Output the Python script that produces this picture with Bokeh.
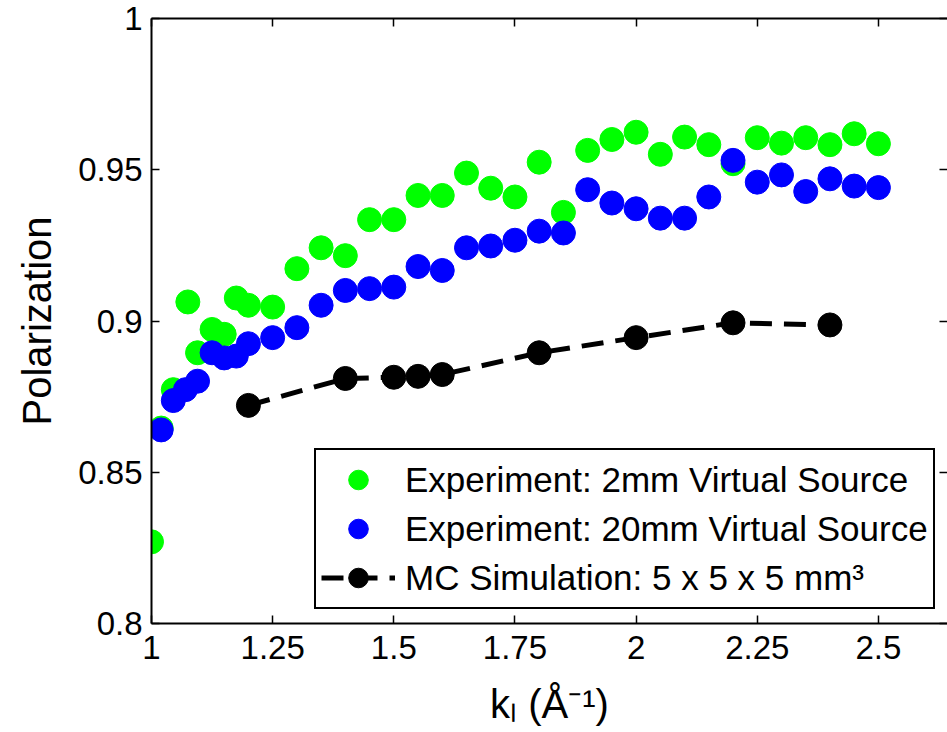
from bokeh.plotting import figure
from bokeh.models import (Range1d, LinearAxis, FixedTicker, Legend, LegendItem)
from bokeh.embed import file_html
from bokeh.resources import INLINE

# ---------------- data ----------------
k_2mm = [1.0, 1.02, 1.045, 1.075, 1.095, 1.125, 1.15, 1.175, 1.2,
         1.25, 1.3, 1.35, 1.4, 1.45, 1.5, 1.55, 1.6, 1.65, 1.7, 1.75, 1.8, 1.85,
         1.9, 1.95, 2.0, 2.05, 2.1, 2.15, 2.2, 2.25, 2.3, 2.35, 2.4, 2.45, 2.5]
p_2mm = [0.827, 0.8646, 0.8773, 0.9063, 0.8895, 0.8972, 0.8956, 0.9076, 0.9052,
         0.9046, 0.9173, 0.9242, 0.9216, 0.9335, 0.9335, 0.9415, 0.9415, 0.9489,
         0.9439, 0.941, 0.9525, 0.9359, 0.9564, 0.960, 0.9624, 0.9551, 0.9608,
         0.9583, 0.952, 0.9606, 0.9588, 0.9606, 0.9583, 0.9619, 0.9586]

k_20mm = [1.02, 1.045, 1.07, 1.095, 1.125, 1.15, 1.175, 1.2,
          1.25, 1.3, 1.35, 1.4, 1.45, 1.5, 1.55, 1.6, 1.65, 1.7, 1.75, 1.8, 1.85,
          1.9, 1.95, 2.0, 2.05, 2.1, 2.15, 2.2, 2.25, 2.3, 2.35, 2.4, 2.45, 2.5]
p_20mm = [0.864, 0.8737, 0.8773, 0.8801, 0.8895, 0.8878, 0.8884, 0.8925,
          0.8945, 0.8978, 0.9052, 0.9101, 0.9107, 0.9112, 0.918, 0.9167, 0.9242,
          0.9248, 0.9267, 0.9297, 0.9291, 0.9434, 0.939, 0.9371, 0.934, 0.934,
          0.941, 0.9531, 0.9459, 0.9483, 0.9428, 0.947, 0.9446, 0.9441]

k_mc = [1.2, 1.4, 1.5, 1.55, 1.6, 1.8, 2.0, 2.2, 2.4]
p_mc = [0.8721, 0.881, 0.8814, 0.8817, 0.8823, 0.8895, 0.8945, 0.8994, 0.8987]

x_ticks = [1.0, 1.25, 1.5, 1.75, 2.0, 2.25, 2.5]
x_tick_labels = ["1", "1.25", "1.5", "1.75", "2", "2.25", "2.5"]
y_ticks = [0.8, 0.85, 0.9, 0.95, 1.0]
y_tick_labels = ["0.8", "0.85", "0.9", "0.95", "1"]

label_2mm = "Experiment: 2mm Virtual Source"
label_20mm = "Experiment: 20mm Virtual Source"
label_mc = "MC Simulation: 5 x 5 x 5 mm\u00b3"
x_title = "k\u2097 (\u00c5\u207b\u00b9)"
y_title = "Polarization"

FONT = "Liberation Sans"

# ---------------- figure ----------------
p = figure(width=947, height=732, output_backend="svg", toolbar_location=None,
           x_range=Range1d(1.0, 1.0 + 795 / 484.0), y_range=Range1d(0.8, 1.0),
           min_border_left=151, min_border_top=18, min_border_bottom=109,
           min_border_right=0, x_axis_location=None, y_axis_location=None)
p.outline_line_color = None
p.xgrid.visible = False
p.ygrid.visible = False
p.background_fill_color = "white"
p.border_fill_color = "white"


def style_axis(ax, show_labels=True, show_line=True):
    ax.axis_line_width = 2
    ax.axis_line_color = "black" if show_line else None
    ax.major_tick_in = 8
    ax.major_tick_out = 0
    ax.minor_tick_in = 0
    ax.minor_tick_out = 0
    ax.minor_tick_line_color = None
    ax.major_tick_line_width = 1.5
    ax.major_tick_line_color = "black"
    ax.major_label_text_font = FONT
    if show_labels:
        ax.major_label_text_font_size = "33px"
        ax.major_label_text_color = "black"
    else:
        ax.major_label_text_font_size = "1px"
        ax.major_label_text_color = None
        ax.major_label_standoff = 0


xb = LinearAxis(ticker=FixedTicker(ticks=x_ticks),
                major_label_overrides={t: l for t, l in zip(x_ticks, x_tick_labels)},
                axis_label=x_title)
style_axis(xb)
xb.major_label_standoff = 12
xb.axis_label_text_font = FONT
xb.axis_label_text_font_size = "40px"
xb.axis_label_text_font_style = "normal"
xb.axis_label_text_color = "black"
xb.axis_label_standoff = 20
p.add_layout(xb, "below")

xt = LinearAxis(ticker=FixedTicker(ticks=x_ticks))
style_axis(xt, show_labels=False)
p.add_layout(xt, "above")

yl = LinearAxis(ticker=FixedTicker(ticks=y_ticks),
                major_label_overrides={t: l for t, l in zip(y_ticks, y_tick_labels)},
                axis_label=y_title)
style_axis(yl)
yl.major_label_standoff = 9
yl.axis_label_text_font = FONT
yl.axis_label_text_font_size = "40px"
yl.axis_label_text_font_style = "normal"
yl.axis_label_text_color = "black"
yl.axis_label_standoff = 16
p.add_layout(yl, "left")

yr = LinearAxis(ticker=FixedTicker(ticks=y_ticks))
style_axis(yr, show_labels=False, show_line=False)
p.add_layout(yr, "right")

# ---------------- data glyphs ----------------
r_g = p.scatter(k_2mm, p_2mm, size=24, marker="circle",
                fill_color="#00ff00", line_color="#00ff00")
r_b = p.scatter(k_20mm, p_20mm, size=24, marker="circle",
                fill_color="#0000ff", line_color="#0000ff")
r_l = p.line(k_mc, p_mc, line_color="black", line_width=5, line_dash="22 12")
r_k = p.scatter(k_mc, p_mc, size=24, marker="circle",
                fill_color="black", line_color="black")

legend = Legend(items=[LegendItem(label=label_2mm, renderers=[r_g]),
                       LegendItem(label=label_20mm, renderers=[r_b]),
                       LegendItem(label=label_mc, renderers=[r_l, r_k])],
                location=(163, 14))
legend.label_text_font = FONT
legend.label_text_font_size = "35px"
legend.label_text_color = "black"
legend.glyph_width = 74
legend.glyph_height = 49
legend.label_height = 38
legend.label_standoff = 10
legend.spacing = 0
legend.padding = 5
legend.margin = 0
legend.border_line_color = "black"
legend.border_line_width = 2
legend.border_line_alpha = 1.0
legend.background_fill_color = "white"
legend.background_fill_alpha = 1.0
p.add_layout(legend, "center")

open("out.html", "w").write(file_html(p, INLINE))
